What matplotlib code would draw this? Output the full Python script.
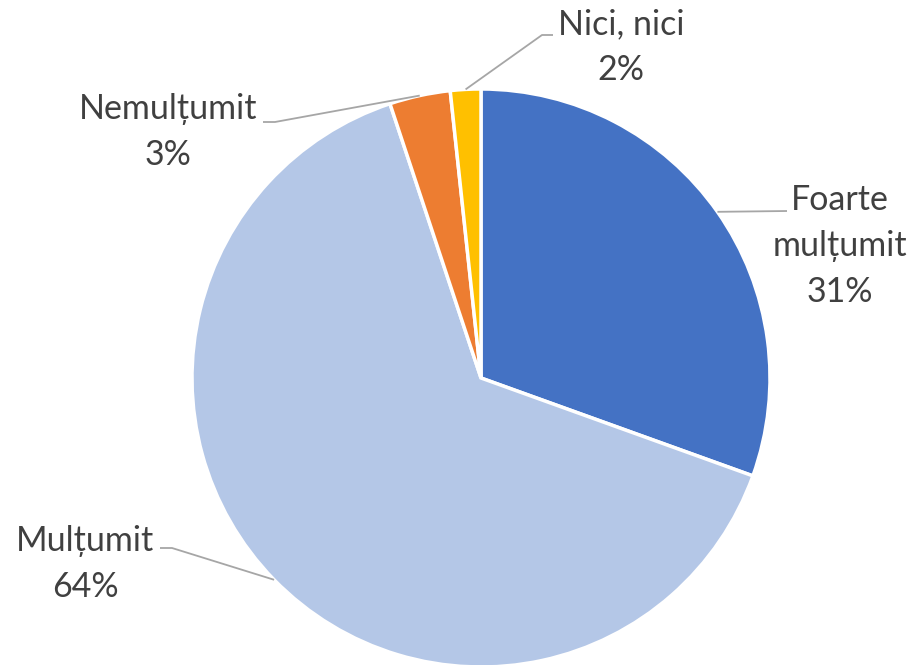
import numpy as np
import matplotlib
matplotlib.use("Agg")
import matplotlib.pyplot as plt

categories = ["Foarte\nmulțumit", "Mulțumit", "Nemulțumit", "Nici, nici"]
values = [30.5, 64.4, 3.4, 1.7]
pct_labels = ["31%", "64%", "3%", "2%"]
colors = ["#4472C4", "#B4C7E7", "#ED7D31", "#FFC000"]

W, H = 914, 665
fig = plt.figure(figsize=(W / 100, H / 100), dpi=100)
ax = fig.add_axes([0, 0, 1, 1])

cx, cy, R = 481, H - 378, 289
ax.pie(values, colors=colors, startangle=90, counterclock=False,
       center=(cx, cy), radius=R, frame=True,
       wedgeprops=dict(edgecolor="white", linewidth=2.5))
ax.set_xlim(0, W)
ax.set_ylim(0, H)
ax.set_aspect("equal")
ax.axis("off")

# label layout: text center, optional elbow, line end
layout = {
    "Foarte\nmulțumit": dict(tx=840, ty=H - 246, elbow=None, end=(787, H - 211)),
    "Mulțumit": dict(tx=85, ty=H - 564, elbow=(172, H - 548), end=(160, H - 548)),
    "Nemulțumit": dict(tx=168, ty=H - 132, elbow=(275, H - 122), end=(263, H - 122)),
    "Nici, nici": dict(tx=621, ty=H - 47, elbow=(542, H - 35), end=(553, H - 35)),
}

fam = ["Lato", "DejaVu Sans"]
total = sum(values)
cum = 0.0
for cat, v, p in zip(categories, values, pct_labels):
    mid = cum + v / 2
    cum += v
    ang = np.deg2rad(90 - 360 * mid / total)
    sx, sy = cx + R * np.cos(ang), cy + R * np.sin(ang)
    L = layout[cat]
    pts = [(sx, sy)]
    if L["elbow"] is not None:
        pts.append(L["elbow"])
    pts.append(L["end"])
    xs, ys = zip(*pts)
    ax.plot(xs, ys, color="#A6A6A6", lw=1.3, solid_capstyle="butt")
    ax.text(L["tx"], L["ty"], f"{cat}\n{p}", ha="center", va="center",
            fontsize=24.5, color="#404040", family=fam, linespacing=1.55)

fig.savefig("out.png", dpi=100)
